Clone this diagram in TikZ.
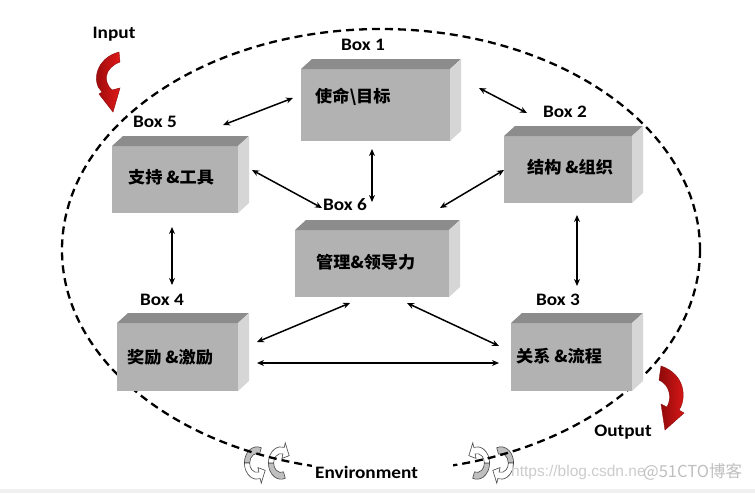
\documentclass[tikz,border=0pt]{standalone}
\usepackage{fontspec}
\setmainfont{Carlito}
\newfontfamily\cjk{Noto Sans CJK SC}
\newfontfamily\wmfont{Liberation Sans}
\usetikzlibrary{arrows.meta,calc}
\definecolor{boxfront}{HTML}{B2B2B2}
\definecolor{boxtop}{HTML}{8C8C8C}
\definecolor{boxside}{HTML}{D6D6D6}
\definecolor{redA}{HTML}{E01818}
\definecolor{redB}{HTML}{8E0A0A}
\newcommand\blockbox[5]{%
  \node[front, minimum width=#4pt, minimum height=#5pt] (#1) at (#2,#3) {};
  \fill[boxtop] (#1.north west) -- ++(11,-10) -- ($(#1.north east)+(11,-10)$) -- (#1.north east) -- cycle;
  \fill[boxside] (#1.north east) -- ++(11,-10) -- ($(#1.south east)+(11,-10)$) -- (#1.south east) -- cycle;
}
\newcommand\envA{%
  \filldraw[envgrey] (70:12pt) arc[start angle=70,end angle=180,radius=12pt] -- (180:7pt) arc[start angle=180,end angle=70,radius=7pt] -- cycle;
  \filldraw[envwhite] (180:12pt) arc[start angle=180,end angle=285,radius=12pt] -- (285:15.5pt) -- (325:9.5pt) -- (285:3.5pt) -- (285:7pt) arc[start angle=285,end angle=180,radius=7pt] -- cycle;
}
\newcommand\envB{%
  \filldraw[envgrey] (180:12pt) arc[start angle=180,end angle=290,radius=12pt] -- (290:7pt) arc[start angle=290,end angle=180,radius=7pt] -- cycle;
  \filldraw[envwhite] (180:12pt) arc[start angle=180,end angle=75,radius=12pt] -- (75:15.5pt) -- (35:9.5pt) -- (75:3.5pt) -- (75:7pt) arc[start angle=75,end angle=180,radius=7pt] -- cycle;
}
\begin{document}
\begin{tikzpicture}[x=1pt,y=-1pt,
  front/.style={fill=boxfront, inner sep=0pt, outer sep=0pt, anchor=north west},
  boxlbl/.style={font=\bfseries\fontsize{17.5}{19}\selectfont, xscale=1.1, inner sep=0pt},
  cn/.style={font=\cjk\bfseries\fontsize{16.5}{18}\selectfont, xscale=1.04, anchor=west, inner sep=0pt},
  link/.style={line width=1.5pt, {Stealth[length=7pt,width=6pt]}-{Stealth[length=7pt,width=6pt]}},
  envgrey/.style={fill=gray!50, draw=gray!55!black, line width=0.6pt},
  envwhite/.style={fill=white, draw=gray!55!black, line width=0.6pt},
  redarrow/.style={left color=redB, right color=redA, draw=redB, line width=0.4pt}]
\useasboundingbox (0,0) rectangle (755,493);
\fill[white] (0,0) rectangle (755,493);
\fill[gray!12] (0,489) rectangle (755,493);

% environment arrows
\begin{scope}[shift={(257,463)}, xscale=1.05, yscale=1.35]\envA\end{scope}
\begin{scope}[shift={(281,463)}, xscale=1.05, yscale=1.35]\envB\end{scope}
\begin{scope}[shift={(477,463)}, xscale=-1.05, yscale=1.35]\envB\end{scope}
\begin{scope}[shift={(501,463)}, xscale=-1.05, yscale=1.35]\envA\end{scope}

% dashed ellipse
\draw[line width=2.3pt, dash pattern=on 8pt off 5pt] (381,250) ellipse [x radius=319, y radius=221];

% boxes
\blockbox{b1}{301}{69}{149}{72}
\blockbox{b5}{112}{146}{126}{67}
\blockbox{b2}{504}{136}{128}{67}
\blockbox{b6}{295}{230}{154}{67}
\blockbox{b4}{117}{323}{121}{68}
\blockbox{b3}{511}{323}{121}{68}

% box texts
\node[cn] (t1) at (315,97) {使命\textbackslash 目标};
\node[cn] (t5) at (128,177) {支持 \&工具};
\node[cn] (t2) at (527,167) {结构 \&组织};
\node[cn] (t6) at (316,262) {管理\&领导力};
\node[cn] (t4) at (127,357) {奖励 \&激励};
\node[cn] (t3) at (516,356) {关系 \&流程};

% box labels
\node[boxlbl] (l1) at (363,45) {Box 1};
\node[boxlbl] (l5) at (155,122) {Box 5};
\node[boxlbl] (l2) at (565,112) {Box 2};
\node[boxlbl] (l6) at (345,205) {Box 6};
\node[boxlbl] (l4) at (162,300) {Box 4};
\node[boxlbl] (l3) at (558,300) {Box 3};

% connector end points
\coordinate (a1s) at (293,98);  \coordinate (a1e) at (223,125);
\coordinate (a2s) at (479,88);  \coordinate (a2e) at (527,113);
\coordinate (a3s) at (372,149); \coordinate (a3e) at (372,202);
\coordinate (a4s) at (252,170); \coordinate (a4e) at (322,208);
\coordinate (a5s) at (504,170); \coordinate (a5e) at (440,208);
\coordinate (a6s) at (172,227); \coordinate (a6e) at (172,285);
\coordinate (a7s) at (577,215); \coordinate (a7e) at (577,286);
\coordinate (a8s) at (257,342); \coordinate (a8e) at (350,303);
\coordinate (a9s) at (407,303); \coordinate (a9e) at (499,346);
\coordinate (a10s) at (257,363); \coordinate (a10e) at (499,363);
\foreach \k in {1,...,10} {\draw[link] (a\k s) -- (a\k e);}

% input / output red arrows
\shade[redarrow] (119,52) .. controls (96,58) and (91,82) .. (102,92) -- (99,94) -- (113,112) -- (120,88) -- (112,90) .. controls (103,82) and (104,68) .. (120,62) -- cycle;
\shade[redarrow] (661,366) .. controls (685,374) and (687,398) .. (679,410) -- (684,413) -- (665,430) -- (661,404) -- (667,407) .. controls (672,398) and (670,385) .. (659,380) -- cycle;
\node[boxlbl] (inp) at (114,34) {Input};
\node[boxlbl] (outp) at (623,432) {Output};

% environment
\fill[white] (312,458) rectangle (453,486);
\node[boxlbl, anchor=west] (env) at (315,472) {Environment};

% watermark
\node[font=\wmfont\fontsize{15.5}{18}\selectfont, text=gray!40, anchor=west, inner sep=0pt] (wm1) at (511,472) {https://blog.csdn.ne};
\node[font=\cjk\fontsize{16.5}{18}\selectfont, text=gray!50, anchor=west, inner sep=0pt] (wm2) at (643,472) {@51CTO博客};
\end{tikzpicture}
\end{document}
